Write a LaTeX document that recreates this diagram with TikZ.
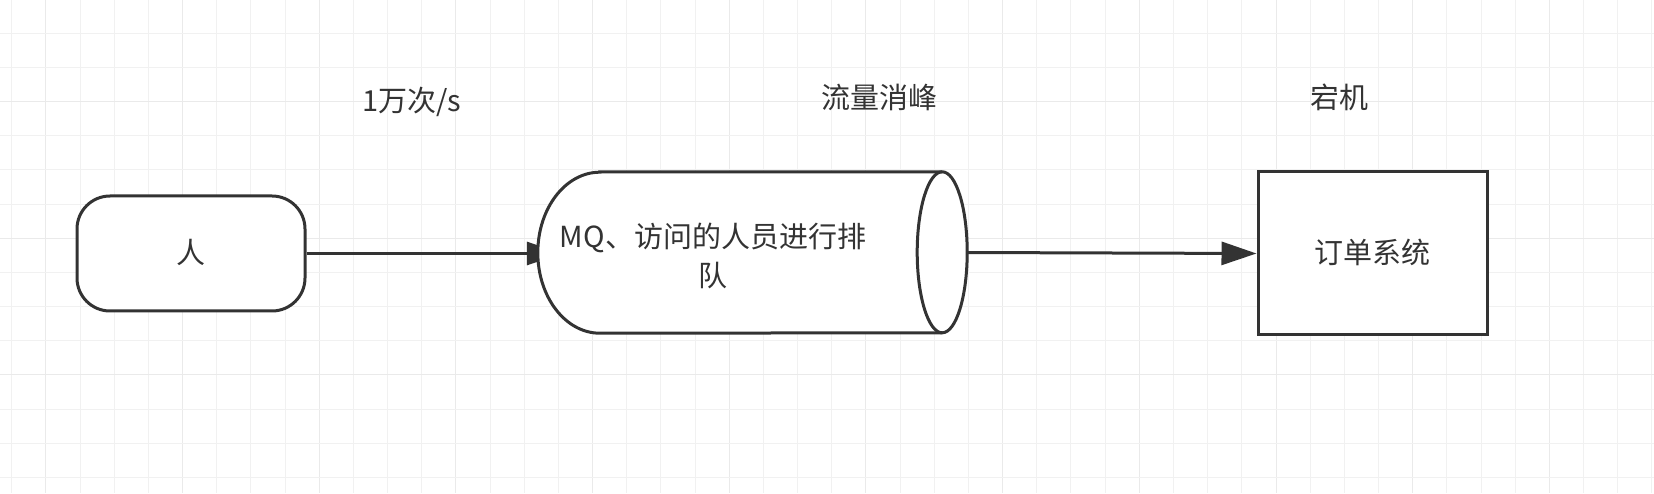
\documentclass[tikz,border=0pt]{standalone}
\usepackage{fontspec}
\setmainfont{Noto Sans CJK SC}
\usetikzlibrary{arrows.meta,calc}
\definecolor{ink}{HTML}{333333}
\definecolor{gridminor}{HTML}{F1F1F1}
\definecolor{gridmajor}{HTML}{EAEAEA}
\begin{document}
\begin{tikzpicture}[x=1pt,y=1pt,
  shp/.style={draw=ink,line width=3pt,fill=white},
  lbl/.style={text=ink,font=\fontsize{29}{39}\selectfont,inner sep=0pt},
  conn/.style={draw=ink,line width=3pt,-{Triangle[length=35pt,width=23pt]}},
  minorline/.style={draw=gridminor,line width=1pt},
  majorline/.style={draw=gridmajor,line width=1pt}]
\useasboundingbox (0,0) rectangle (1654,493);
\fill[white] (0,0) rectangle (1654,493);
% grid
\foreach \k in {0,...,48}{
  \pgfmathtruncatemacro{\m}{mod(\k,4)}
  \ifnum\m=1
    \draw[majorline] ({11.7+\k*34.17},0) -- ({11.7+\k*34.17},493);
  \else
    \draw[minorline] ({11.7+\k*34.17},0) -- ({11.7+\k*34.17},493);
  \fi
}
\foreach \k in {0,...,15}{
  \pgfmathtruncatemacro{\m}{mod(\k,4)}
  \ifnum\m=3
    \draw[majorline] (0,{493.9-\k*34.17}) -- (1654,{493.9-\k*34.17});
  \else
    \draw[minorline] (0,{493.9-\k*34.17}) -- (1654,{493.9-\k*34.17});
  \fi
}
% nodes
\node[shp,rounded corners=33pt,minimum width=228pt,minimum height=115pt,inner sep=0pt] (ren) at (191,239.5) {};
\node[lbl] (rentext) at (191,241) {人};
\node[minimum width=429pt,minimum height=161pt,inner sep=0pt] (mq) at (752.5,240.5) {};
\node[shp,minimum width=229pt,minimum height=163pt,inner sep=0pt] (order) at (1372.5,239.5) {};
\node[lbl] (ordertext) at (1372,241) {订单系统};
% connector 1 (tip partly hidden by the queue)
\draw[conn,shorten >=-24pt] (ren.east) -- (ren.east -| mq.west);
% queue cylinder
\draw[shp] ($(mq.north west)+(62,0)$) -- ($(mq.north east)+(-25,0)$)
  arc[start angle=90,end angle=-90,x radius=25,y radius=80.5]
  -- ($(mq.south west)+(62,0)$)
  arc[start angle=270,end angle=90,x radius=62,y radius=80.5] -- cycle;
\draw[draw=ink,line width=3pt] ($(mq.north east)+(-25,0)$)
  arc[start angle=90,end angle=270,x radius=25,y radius=80.5];
\node[lbl,align=center] (mqtext) at (713,237.5) {MQ、访问的人员进行排\\队};
% connector 2
\draw[conn] (mq.east) -- (order.west);
% labels
\node[lbl] (rate) at (412,391) {1万次/s};
\node[lbl] (peak) at (879,396) {流量消峰};
\node[lbl] (down) at (1339,396) {宕机};
\end{tikzpicture}
\end{document}
